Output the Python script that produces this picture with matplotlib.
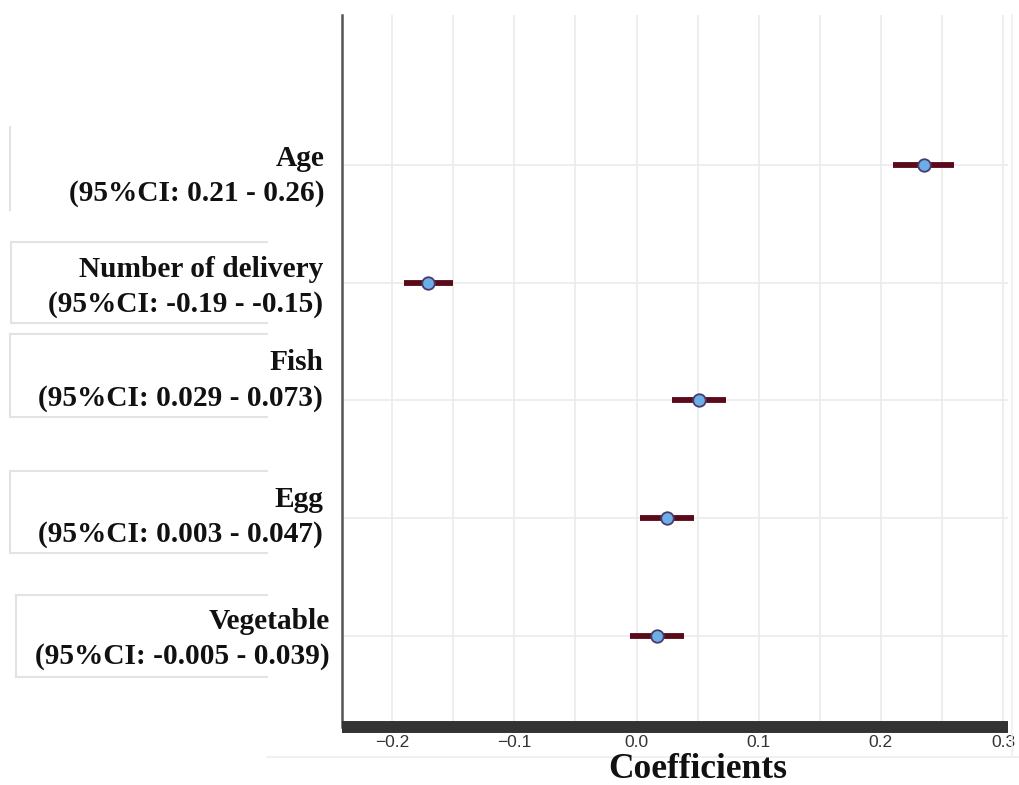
import matplotlib
matplotlib.use("Agg")
import matplotlib.pyplot as plt
from matplotlib.lines import Line2D
from matplotlib.transforms import blended_transform_factory, offset_copy
import numpy as np

# Regression coefficients with 95% confidence intervals
variables = ["Vegetable", "Egg", "Fish", "Number of delivery", "Age"]
coef = [0.017, 0.025, 0.051, -0.171, 0.235]
ci_low = [-0.005, 0.003, 0.029, -0.19, 0.21]
ci_high = [0.039, 0.047, 0.073, -0.15, 0.26]
ci_text = ["-0.005 - 0.039", "0.003 - 0.047", "0.029 - 0.073",
           "-0.19 - -0.15", "0.21 - 0.26"]
x_ticks = [-0.2, -0.1, 0.0, 0.1, 0.2, 0.3]

W, H = 1020, 785
fig = plt.figure(figsize=(W / 100, H / 100), dpi=100)


def fx(px):
    return px / W


def fy(py):
    return 1 - py / H


# plot panel
ax = fig.add_axes([fx(342), fy(727), fx(1008) - fx(342), fy(15) - fy(727)])
ax.set_xlim(-0.241, 0.304)
ax.set_ylim(-0.773, 5.274)

ypos = np.arange(len(variables))

# grid every 0.05 plus one line per variable
for gx in np.arange(-0.2, 0.301, 0.05):
    ax.axvline(gx, color="#ebebeb", lw=1.2, zorder=0)
for gy in ypos:
    ax.axhline(gy, color="#ebebeb", lw=1.2, zorder=0)

xerr = [np.array(coef) - np.array(ci_low), np.array(ci_high) - np.array(coef)]
ax.errorbar(coef, ypos, xerr=xerr, fmt="none", ecolor="#5a0a18",
            elinewidth=4.2, capsize=0, zorder=2)
ax.plot(coef, ypos, "o", ms=9, mfc="#6caee6", mec="#4a3a6e", mew=1.3,
        zorder=3, ls="none")

# axes styling
for s in ["top", "right"]:
    ax.spines[s].set_visible(False)
ax.spines["left"].set_color("#555555")
ax.spines["left"].set_linewidth(1.8)
ax.spines["bottom"].set_color("#333333")
ax.spines["bottom"].set_linewidth(8.6)
ax.spines["bottom"].set_capstyle("butt")

ax.set_yticks([])
ax.set_xticks(x_ticks)
ax.set_xticklabels([f"{t:.1f}".replace("-", "\u2212") for t in x_ticks],
                   fontsize=12.5, color="#333333", family="Liberation Sans")
ax.tick_params(axis="x", direction="in", length=4, width=1, color="#111111",
               pad=6)

fig.text(fx(698), fy(770), "Coefficients", ha="center", va="center",
         family="Liberation Serif", fontweight="bold", fontsize=25.5,
         color="#111111")

# variable labels to the left of the panel
label_right = [330, 323, 323, 323, 325]
label_shift = [-3, 1, 20, -4, -11]
tr = blended_transform_factory(fig.transFigure, ax.transData)
for i, name in enumerate(variables):
    t = offset_copy(tr, fig=fig, x=0, y=label_shift[i], units="dots")
    ax.text(fx(label_right[i]), ypos[i], f"{name}\n(95%CI: {ci_text[i]})",
            transform=t, ha="right", va="center", multialignment="right",
            family="Liberation Serif", fontweight="bold", fontsize=21.2,
            color="#111111", linespacing=1.38, clip_on=False)

# open label frames
box_color = "#e3e3e3"
frames = [(16, 595, 677), (10, 471, 553), (10, 334, 417), (11, 242, 323)]
for left, top, bottom in frames:
    fig.add_artist(Line2D([fx(left), fx(left)], [fy(top), fy(bottom)],
                          color=box_color, lw=1.5))
    for yy in (top, bottom):
        fig.add_artist(Line2D([fx(left), fx(267)], [fy(yy), fy(yy)],
                              color=box_color, lw=1.5))
fig.add_artist(Line2D([fx(10), fx(10)], [fy(127), fy(210)],
                      color=box_color, lw=1.5))
fig.add_artist(Line2D([fx(267), fx(1020)], [fy(757), fy(757)],
                      color="#eeeeee", lw=1.2))
fig.add_artist(Line2D([fx(1012), fx(1012)], [fy(15), fy(757)],
                      color="#f0f0f0", lw=1.2))

fig.savefig("out.png", dpi=100)
